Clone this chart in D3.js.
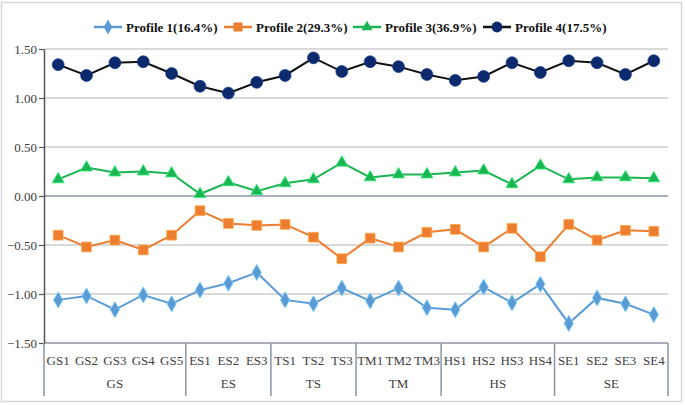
<!DOCTYPE html>
<html>
<head>
<meta charset="utf-8">
<script src="https://cdn.jsdelivr.net/npm/d3@7"></script>
<style>
  body { margin: 0; background: #fff; }
  svg { display: block; }
  svg text { font-family: "Liberation Serif", "Times New Roman", serif; }
</style>
</head>
<body>
<div id="chart"></div>
<script>
// data
const categories = ["GS1","GS2","GS3","GS4","GS5","ES1","ES2","ES3","TS1","TS2","TS3",
                    "TM1","TM2","TM3","HS1","HS2","HS3","HS4","SE1","SE2","SE3","SE4"]
const groups = [
    { name: "GS", size: 5 }, { name: "ES", size: 3 }, { name: "TS", size: 3 },
    { name: "TM", size: 3 }, { name: "HS", size: 4 }, { name: "SE", size: 4 }
]
const seriesNames = ["Profile 1(16.4%)", "Profile 2(29.3%)", "Profile 3(36.9%)", "Profile 4(17.5%)"]
const profile1 = [-1.06,-1.02,-1.16,-1.01,-1.10,-0.96,-0.89,-0.78,-1.06,-1.10,-0.94,
                  -1.07,-0.94,-1.14,-1.16,-0.93,-1.09,-0.90,-1.30,-1.04,-1.10,-1.21]
const profile2 = [-0.40,-0.52,-0.45,-0.55,-0.40,-0.15,-0.28,-0.30,-0.29,-0.42,-0.64,
                  -0.43,-0.52,-0.37,-0.34,-0.52,-0.33,-0.62,-0.29,-0.45,-0.35,-0.36]
const profile3 = [0.17,0.29,0.24,0.25,0.23,0.02,0.14,0.05,0.13,0.17,0.34,
                  0.19,0.22,0.22,0.24,0.26,0.12,0.31,0.17,0.19,0.19,0.18]
const profile4 = [1.34,1.23,1.36,1.37,1.25,1.12,1.05,1.16,1.23,1.41,1.27,
                  1.37,1.32,1.24,1.18,1.22,1.36,1.26,1.38,1.36,1.24,1.38]
const yTicks = [1.5, 1.0, 0.5, 0.0, -0.5, -1.0, -1.5]

const W = 685, H = 405
const margin = { top: 49, right: 17, bottom: 62, left: 44 }
const serif = "'Liberation Serif', 'Times New Roman', serif"

const series = [
    { name: seriesNames[0], values: profile1, line: "#5b9bd5", fill: "#5b9bd5", shape: d3.symbolDiamond, size: 75 },
    { name: seriesNames[1], values: profile2, line: "#ed7d31", fill: "#ed7d31", shape: d3.symbolSquare, size: 95 },
    { name: seriesNames[2], values: profile3, line: "#1db454", fill: "#1db454", shape: d3.symbolTriangle, size: 62 },
    { name: seriesNames[3], values: profile4, line: "#111111", fill: "#0c2a6b", shape: d3.symbolCircle, size: 110 }
]

const svg = d3.select("#chart").append("svg")
    .attr("width", W).attr("height", H)

// outer frame
svg.append("rect")
    .attr("x", 1.5).attr("y", 2.5).attr("width", 680).attr("height", 399)
    .attr("fill", "#fff").attr("stroke", "#d9d9d9").attr("stroke-width", 1.5)

const x = d3.scaleBand()
    .domain(categories)
    .range([margin.left, W - margin.right])

const y = d3.scaleLinear()
    .domain([-1.5, 1.5])
    .range([H - margin.bottom, margin.top])

// gridlines
svg.append("g")
    .selectAll("line")
    .data(yTicks.filter(d => d !== 0 && d !== -1.5))
    .enter()
    .append("line")
    .attr("x1", margin.left).attr("x2", W - margin.right)
    .attr("y1", d => y(d)).attr("y2", d => y(d))
    .attr("stroke", "#d9d9d9").attr("stroke-width", 2)

// zero line and bottom line
svg.append("g")
    .selectAll("line")
    .data([0, -1.5])
    .enter()
    .append("line")
    .attr("x1", margin.left).attr("x2", W - margin.right)
    .attr("y1", d => y(d)).attr("y2", d => y(d))
    .attr("stroke", "#8c95a3").attr("stroke-width", 1.5)

// y axis
const yAxis = svg.append("g")
    .attr("transform", "translate(" + margin.left + ",0)")
    .call(d3.axisLeft(y).tickValues(yTicks).tickFormat(d3.format(".2f")).tickSize(5).tickSizeOuter(0))
yAxis.attr("font-family", serif).attr("font-size", 13)
yAxis.select(".domain").attr("stroke", "#555").attr("stroke-width", 1.5)
yAxis.selectAll(".tick line").attr("stroke", "#555").attr("stroke-width", 1.2)
yAxis.selectAll(".tick text")
    .attr("x", -7)
    .attr("fill", "#404040")

// category labels
const yBottom = y(-1.5)
svg.append("g")
    .attr("font-family", serif)
    .selectAll("text")
    .data(categories)
    .enter()
    .append("text")
    .attr("x", d => x(d) + x.bandwidth() / 2)
    .attr("y", yBottom + 22)
    .attr("text-anchor", "middle")
    .attr("font-size", "13px")
    .attr("fill", "#404040")
    .text(d => d)

// group separators and labels
let start = 0
const bounds = [0]
groups.forEach(g => { start += g.size; bounds.push(start) })

svg.append("g")
    .selectAll("line")
    .data(bounds)
    .enter()
    .append("line")
    .attr("x1", i => i < categories.length ? x(categories[i]) : x.range()[1])
    .attr("x2", i => i < categories.length ? x(categories[i]) : x.range()[1])
    .attr("y1", yBottom).attr("y2", yBottom + 53)
    .attr("stroke", "#8c95a3").attr("stroke-width", 1.5)

svg.append("g")
    .attr("font-family", serif)
    .selectAll("text")
    .data(groups)
    .enter()
    .append("text")
    .attr("x", (g, i) => {
        const a = x(categories[bounds[i]])
        const b = bounds[i + 1] < categories.length ? x(categories[bounds[i + 1]]) : x.range()[1]
        return (a + b) / 2
    })
    .attr("y", yBottom + 45)
    .attr("text-anchor", "middle")
    .attr("font-size", "13px")
    .attr("fill", "#404040")
    .text(g => g.name)

// lines and markers
const line = d3.line()
    .x((d, i) => x(categories[i]) + x.bandwidth() / 2)
    .y(d => y(d))

series.forEach(s => {
    svg.append("path")
        .datum(s.values)
        .attr("fill", "none")
        .attr("stroke", s.line)
        .attr("stroke-width", 2)
        .attr("d", line)

    svg.append("g")
        .selectAll("path")
        .data(s.values)
        .enter()
        .append("path")
        .attr("transform", (d, i) => "translate(" + (x(categories[i]) + x.bandwidth() / 2) + "," + y(d) + ")")
        .attr("d", d3.symbol().type(s.shape).size(s.size))
        .attr("fill", s.fill)
        .attr("stroke", d3.color(s.fill).brighter(0.8))
        .attr("stroke-width", 0.8)
})

// legend
const legendX = [94, 224, 353, 483]
const legend = svg.append("g")
    .attr("font-family", serif)
    .selectAll("g")
    .data(series)
    .enter()
    .append("g")
    .attr("transform", (s, i) => "translate(" + legendX[i] + ",27)")

legend.append("line")
    .attr("x1", 0).attr("x2", 28).attr("y1", 0).attr("y2", 0)
    .attr("stroke", s => s.line).attr("stroke-width", 2.5)

legend.append("path")
    .attr("transform", "translate(14,0)")
    .attr("d", s => d3.symbol().type(s.shape).size(s.size * 0.85)())
    .attr("fill", s => s.fill)

legend.append("text")
    .attr("x", 32).attr("y", 4.5)
    .attr("font-size", "13px")
    .attr("font-weight", "bold")
    .attr("fill", "#111")
    .text(s => s.name)
</script>
</body>
</html>
